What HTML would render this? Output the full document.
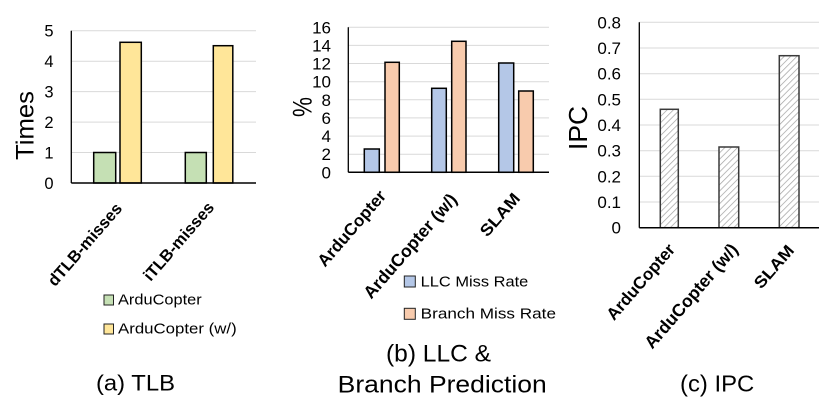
<!DOCTYPE html>
<html><head><meta charset="utf-8">
<style>
html,body{margin:0;padding:0;background:#fff;}
svg{display:block;}
text{font-family:"Liberation Sans",sans-serif;fill:#000;}
.t{font-size:16.5px;}
.tb{font-size:17px;}
.cat{font-size:16.5px;font-weight:bold;}
.cat2{font-size:17px;font-weight:bold;}
.catw{font-size:17.5px;font-weight:bold;}
</style></head>
<body>
<svg width="833" height="407" viewBox="0 0 833 407" xmlns="http://www.w3.org/2000/svg">
<defs>
<pattern id="h" patternUnits="userSpaceOnUse" width="4.5" height="4.5" patternTransform="rotate(45)">
<rect width="4.5" height="4.5" fill="#fff"/>
<line x1="0" y1="0" x2="0" y2="4.5" stroke="#a0a0a0" stroke-width="1.4"/>
</pattern>
</defs>

<!-- ===== (a) TLB ===== -->
<g stroke="#d9d9d9" stroke-width="1">
<line x1="71" y1="30.7" x2="256" y2="30.7"/>
<line x1="71" y1="61.2" x2="256" y2="61.2"/>
<line x1="71" y1="91.6" x2="256" y2="91.6"/>
<line x1="71" y1="122.1" x2="256" y2="122.1"/>
<line x1="71" y1="152.5" x2="256" y2="152.5"/>
</g>
<g stroke="#000" stroke-width="1.5">
<rect x="93.7" y="152.5" width="22" height="30.5" fill="#c5e0b4"/>
<rect x="120" y="42.3" width="21.3" height="140.7" fill="#ffe699"/>
<rect x="185.3" y="152.5" width="21" height="30.5" fill="#c5e0b4"/>
<rect x="213.3" y="45.7" width="19.5" height="137.3" fill="#ffe699"/>
</g>
<line x1="71.3" y1="30.7" x2="71.3" y2="183" stroke="#000" stroke-width="1.3"/>
<line x1="71.3" y1="183" x2="256" y2="183" stroke="#000" stroke-width="1.5"/>
<g class="t" text-anchor="end">
<text x="53.5" y="36.7">5</text>
<text x="53.5" y="67.2">4</text>
<text x="53.5" y="97.6">3</text>
<text x="53.5" y="128.1">2</text>
<text x="53.5" y="158.5">1</text>
<text x="53.5" y="189">0</text>
</g>
<text transform="translate(33.3,125.5) scale(1.16,1) rotate(-90)" text-anchor="middle" font-size="21.5" textLength="69" lengthAdjust="spacingAndGlyphs">Times</text>
<text class="cat" transform="translate(123,209) rotate(-49)" text-anchor="end">dTLB-misses</text>
<text class="cat" transform="translate(215,208) rotate(-49)" text-anchor="end">iTLB-misses</text>
<rect x="104" y="295" width="9.5" height="10" fill="#c5e0b4" stroke="#222" stroke-width="1"/>
<text x="118" y="304.3" font-size="15" textLength="83.7" lengthAdjust="spacingAndGlyphs">ArduCopter</text>
<rect x="104" y="324" width="9.5" height="10" fill="#ffe699" stroke="#222" stroke-width="1"/>
<text x="118" y="333.3" font-size="15" textLength="118.7" lengthAdjust="spacingAndGlyphs">ArduCopter (w/)</text>
<text x="96" y="390.7" font-size="22" textLength="79" lengthAdjust="spacingAndGlyphs">(a) TLB</text>

<!-- ===== (b) LLC & Branch ===== -->
<g stroke="#d9d9d9" stroke-width="1">
<line x1="348" y1="27.3" x2="549" y2="27.3"/>
<line x1="348" y1="45.4" x2="549" y2="45.4"/>
<line x1="348" y1="63.5" x2="549" y2="63.5"/>
<line x1="348" y1="81.7" x2="549" y2="81.7"/>
<line x1="348" y1="99.8" x2="549" y2="99.8"/>
<line x1="348" y1="117.9" x2="549" y2="117.9"/>
<line x1="348" y1="136.1" x2="549" y2="136.1"/>
<line x1="348" y1="154.2" x2="549" y2="154.2"/>
</g>
<g stroke="#000" stroke-width="1.5">
<rect x="364.3" y="149" width="15" height="23.3" fill="#b4c7e7"/>
<rect x="385" y="62.3" width="14.3" height="110" fill="#f8cbad"/>
<rect x="431.7" y="88.3" width="14.6" height="84" fill="#b4c7e7"/>
<rect x="451.7" y="41.3" width="14.3" height="131" fill="#f8cbad"/>
<rect x="498.7" y="63" width="15" height="109.3" fill="#b4c7e7"/>
<rect x="518.7" y="91" width="14.6" height="81.3" fill="#f8cbad"/>
</g>
<line x1="348.3" y1="27.3" x2="348.3" y2="172.3" stroke="#000" stroke-width="1.3"/>
<line x1="348.3" y1="172.3" x2="549" y2="172.3" stroke="#000" stroke-width="1.5"/>
<g class="tb" text-anchor="end">
<text x="331" y="33.3">16</text>
<text x="331" y="51.4">14</text>
<text x="331" y="69.5">12</text>
<text x="331" y="87.7">10</text>
<text x="331" y="105.8">8</text>
<text x="331" y="123.9">6</text>
<text x="331" y="142.1">4</text>
<text x="331" y="160.2">2</text>
<text x="331" y="178.3">0</text>
</g>
<text transform="translate(311.7,107) scale(1.16,1) rotate(-90)" text-anchor="middle" font-size="23.5" textLength="20" lengthAdjust="spacingAndGlyphs">%</text>
<text class="cat2" transform="translate(387,196.5) rotate(-49)" text-anchor="end">ArduCopter</text>
<text class="catw" transform="translate(458,200) rotate(-49)" text-anchor="end">ArduCopter (w/)</text>
<text class="cat" transform="translate(521,199) rotate(-49) scale(1.1,1)" text-anchor="end">SLAM</text>
<rect x="404.3" y="276" width="11" height="11" fill="#b4c7e7" stroke="#222" stroke-width="1"/>
<text x="420.7" y="286.7" font-size="15" textLength="107.6" lengthAdjust="spacingAndGlyphs">LLC Miss Rate</text>
<rect x="404.3" y="308.3" width="11" height="11" fill="#f8cbad" stroke="#222" stroke-width="1"/>
<text x="420.7" y="318.3" font-size="15" textLength="135.3" lengthAdjust="spacingAndGlyphs">Branch Miss Rate</text>
<text x="386" y="361.7" font-size="24" textLength="105" lengthAdjust="spacingAndGlyphs">(b) LLC &amp;</text>
<text x="337.7" y="392.7" font-size="24" textLength="209" lengthAdjust="spacingAndGlyphs">Branch Prediction</text>

<!-- ===== (c) IPC ===== -->
<g stroke="#d9d9d9" stroke-width="1">
<line x1="639" y1="22.3" x2="819" y2="22.3"/>
<line x1="639" y1="48" x2="819" y2="48"/>
<line x1="639" y1="73.7" x2="819" y2="73.7"/>
<line x1="639" y1="99.3" x2="819" y2="99.3"/>
<line x1="639" y1="125" x2="819" y2="125"/>
<line x1="639" y1="150.7" x2="819" y2="150.7"/>
<line x1="639" y1="176.3" x2="819" y2="176.3"/>
<line x1="639" y1="202" x2="819" y2="202"/>
</g>
<g stroke="#3a3a3a" stroke-width="1.5" fill="url(#h)">
<rect x="660.3" y="109.3" width="18" height="118.4"/>
<rect x="719" y="147" width="19.7" height="80.7"/>
<rect x="779.3" y="55.7" width="19.7" height="172"/>
</g>
<line x1="639.3" y1="22.3" x2="639.3" y2="227.7" stroke="#000" stroke-width="1.3"/>
<line x1="639.3" y1="227.7" x2="819" y2="227.7" stroke="#000" stroke-width="1.5"/>
<g class="tb" text-anchor="end">
<text x="621" y="28.3">0.8</text>
<text x="621" y="54">0.7</text>
<text x="621" y="79.7">0.6</text>
<text x="621" y="105.3">0.5</text>
<text x="621" y="131">0.4</text>
<text x="621" y="156.7">0.3</text>
<text x="621" y="182.3">0.2</text>
<text x="621" y="208">0.1</text>
<text x="621" y="233.7">0</text>
</g>
<text transform="translate(587,128) scale(1.16,1) rotate(-90)" text-anchor="middle" font-size="22.5" textLength="44" lengthAdjust="spacingAndGlyphs">IPC</text>
<text class="cat2" transform="translate(676,250) rotate(-49)" text-anchor="end">ArduCopter</text>
<text class="catw" transform="translate(739,250) rotate(-49)" text-anchor="end">ArduCopter (w/)</text>
<text class="cat" transform="translate(795,251) rotate(-49) scale(1.1,1)" text-anchor="end">SLAM</text>
<text x="680" y="391.7" font-size="23" textLength="74.3" lengthAdjust="spacingAndGlyphs">(c) IPC</text>
</svg>
</body></html>
